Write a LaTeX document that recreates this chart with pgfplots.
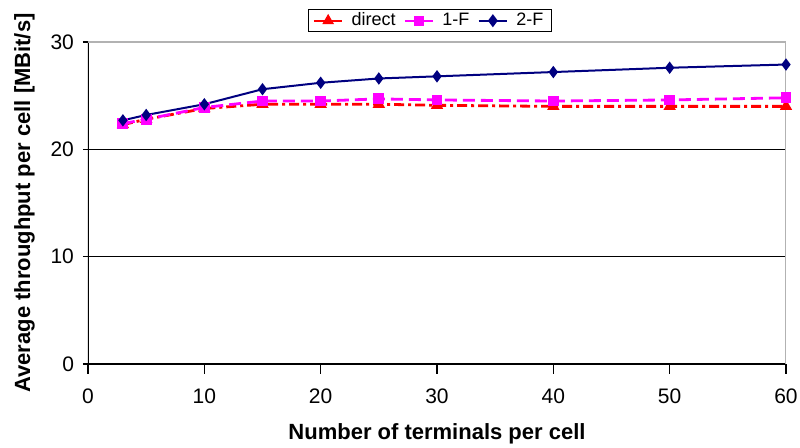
\documentclass[border=0pt]{standalone}
\usepackage{pgfplots}
\pgfplotsset{compat=1.18}
\usepackage{fontspec}
\setmainfont{Liberation Sans}
\definecolor{dnavy}{RGB}{0,0,128}
\definecolor{mag}{RGB}{255,0,255}
\begin{document}
\begin{tikzpicture}[x=1pt,y=1pt]
\path[use as bounding box] (-44,-42) rectangle (356,182);
\begin{axis}[
  at={(0,0)}, anchor=south west,
  scale only axis, width=349pt, height=161pt,
  xmin=0, xmax=60, ymin=0, ymax=30,
  xtick={0,10,...,60}, ytick={0,10,20,30},
  xtick pos=bottom, ytick pos=left,
  ymajorgrids, major grid style={black, line width=0.6pt},
  axis line style={draw=none},
  tick style={black, line width=0.6pt},
  xtick align=outside, ytick align=center,
  major tick length=5pt,
  x tick label style={font=\fontsize{10.5}{12}\selectfont, yshift=-4pt},
  y tick label style={font=\fontsize{10.5}{12}\selectfont, xshift=-1pt},
  /pgf/number format/assume math mode=true,
  xlabel={\textbf{Number of terminals per cell}},
  ylabel={\textbf{Average throughput per cell [MBit/s]}},
  label style={font=\fontsize{11}{12}\selectfont},
  xlabel style={yshift=-3pt},
  ylabel style={yshift=1pt},
  legend style={at={(0.49,1.03)}, anchor=south, legend columns=3,
    font=\fontsize{9}{10}\selectfont, draw=black, line width=0.6pt,
    inner xsep=2pt, inner ysep=0.5pt, column sep=2pt,
    nodes={inner ysep=1pt}},
  legend image code/.code={%
    \draw[mark repeat=2,mark phase=2,#1] plot coordinates {(0cm,0cm) (0.25cm,0cm) (0.5cm,0cm)};},
  legend image post style={line width=1.2pt, solid},
]
\addplot[red, line width=1.4pt, dash pattern=on 5pt off 2pt on 1.5pt off 2pt, mark=triangle*, mark size=2.2pt, mark options={solid}]
  coordinates {(3,22.3) (5,22.8) (10,23.8) (15,24.2) (20,24.2) (25,24.2) (30,24.1) (40,24.0) (50,24.0) (60,24.0)};
\addplot[mag, line width=1.4pt, dash pattern=on 6pt off 3pt, mark=square*, mark size=2pt, mark options={solid}]
  coordinates {(3,22.4) (5,22.8) (10,23.9) (15,24.5) (20,24.5) (25,24.7) (30,24.6) (40,24.5) (50,24.6) (60,24.8)};
\addplot[dnavy, line width=1pt, mark=diamond*, mark size=2.3pt]
  coordinates {(3,22.7) (5,23.2) (10,24.2) (15,25.6) (20,26.2) (25,26.6) (30,26.8) (40,27.2) (50,27.6) (60,27.9)};
\legend{direct,1-F,2-F}
\draw[black, line width=0.6pt] (axis cs:0,0) -- (axis cs:0,30);
\draw[black, line width=0.6pt] (axis cs:0,0) -- (axis cs:60,0);
\draw[gray!60, line width=0.8pt] (axis cs:0,30) -- (axis cs:60,30) -- (axis cs:60,0);
\end{axis}
\end{tikzpicture}
\end{document}
